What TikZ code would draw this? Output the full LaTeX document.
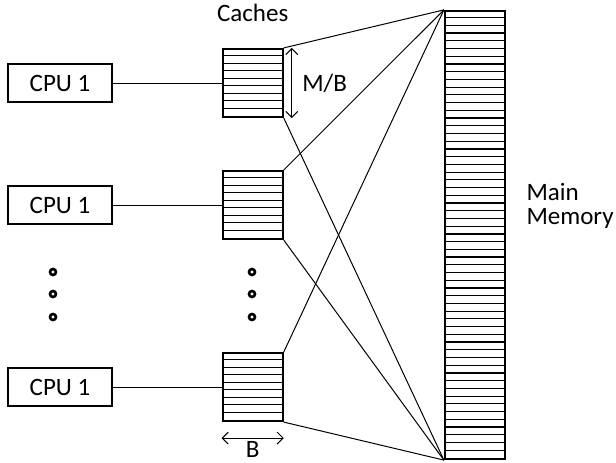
\documentclass[tikz,border=0pt]{standalone}
\usepackage{fontspec}
\setmainfont{Carlito}
\usetikzlibrary{arrows.meta, positioning}
\definecolor{inkcolor}{HTML}{000000}

\begin{document}
\begin{tikzpicture}[x=0.5pt, y=-0.5pt,
  cpubox/.style={draw=inkcolor, line width=0.85pt, minimum width=52pt,
    minimum height=19pt, inner sep=0pt, font=\fontsize{12.5}{13}\selectfont},
  cachebox/.style={draw=inkcolor, line width=1.1pt, minimum width=30pt,
    minimum height=34pt, inner sep=0pt},
  membox/.style={draw=inkcolor, line width=1.1pt, minimum width=30pt,
    minimum height=224pt, inner sep=0pt},
  wire/.style={inkcolor, line width=0.5pt},
  dimarrow/.style={{Straight Barb[length=3pt,width=6pt]}-{Straight Barb[length=3pt,width=6pt]},
    inkcolor, line width=0.5pt},
  dotmark/.style={circle, draw=inkcolor, line width=1.3pt, fill=white,
    minimum size=3pt, inner sep=0pt},
  lbl/.style={inkcolor, font=\fontsize{12.5}{12}\selectfont}]
  \useasboundingbox (0,0) rectangle (616,462);

  % main memory
  \node[membox] (mem) at (475,235) {};
  \foreach \k in {1,...,57}
    \draw[wire, line width=0.6pt] ([yshift=-\k*3.862pt]mem.north west)
      -- ([yshift=-\k*3.862pt]mem.north east);
  \node[lbl, align=left, inner sep=0pt, right=10pt of mem, yshift=14.5pt]
    (memlabel) {Main\\Memory};

  % processors with their caches
  \foreach \i/\y in {1/83, 2/205, 3/387} {
    \node[cpubox] (cpu\i) at (60,\y) {CPU 1};
    \node[cachebox] (cache\i) at (252.7,\y) {};
    \foreach \k in {1,...,8}
      \draw[wire] ([yshift=-\k*3.778pt]cache\i.north west)
        -- ([yshift=-\k*3.778pt]cache\i.north east);
    \draw[wire] (cpu\i) -- (cache\i);
    \draw[wire] (cache\i.north east) -- (mem.north west);
    \draw[wire] (cache\i.south east) -- (mem.south west);
  }

  \node[lbl, inner sep=0pt, above=13pt of cache1] (cachelabel) {Caches};

  % block sizes
  \draw[dimarrow] ([xshift=4pt]cache1.north east) -- ([xshift=4pt]cache1.south east)
    node[lbl, midway, right=5pt, inner sep=0pt] (mblabel) {M/B};
  \draw[dimarrow] ([yshift=-8pt]cache3.south west) -- ([yshift=-8pt]cache3.south east)
    node[lbl, midway, below=1.5pt, inner sep=0pt] (blabel) {B};

  % ellipsis dots
  \foreach \k/\y in {1/272, 2/294, 3/317} {
    \node[dotmark] (cpudot\k) at (53,\y) {};
    \node[dotmark] (cachedot\k) at (252,\y) {};
  }
\end{tikzpicture}
\end{document}
